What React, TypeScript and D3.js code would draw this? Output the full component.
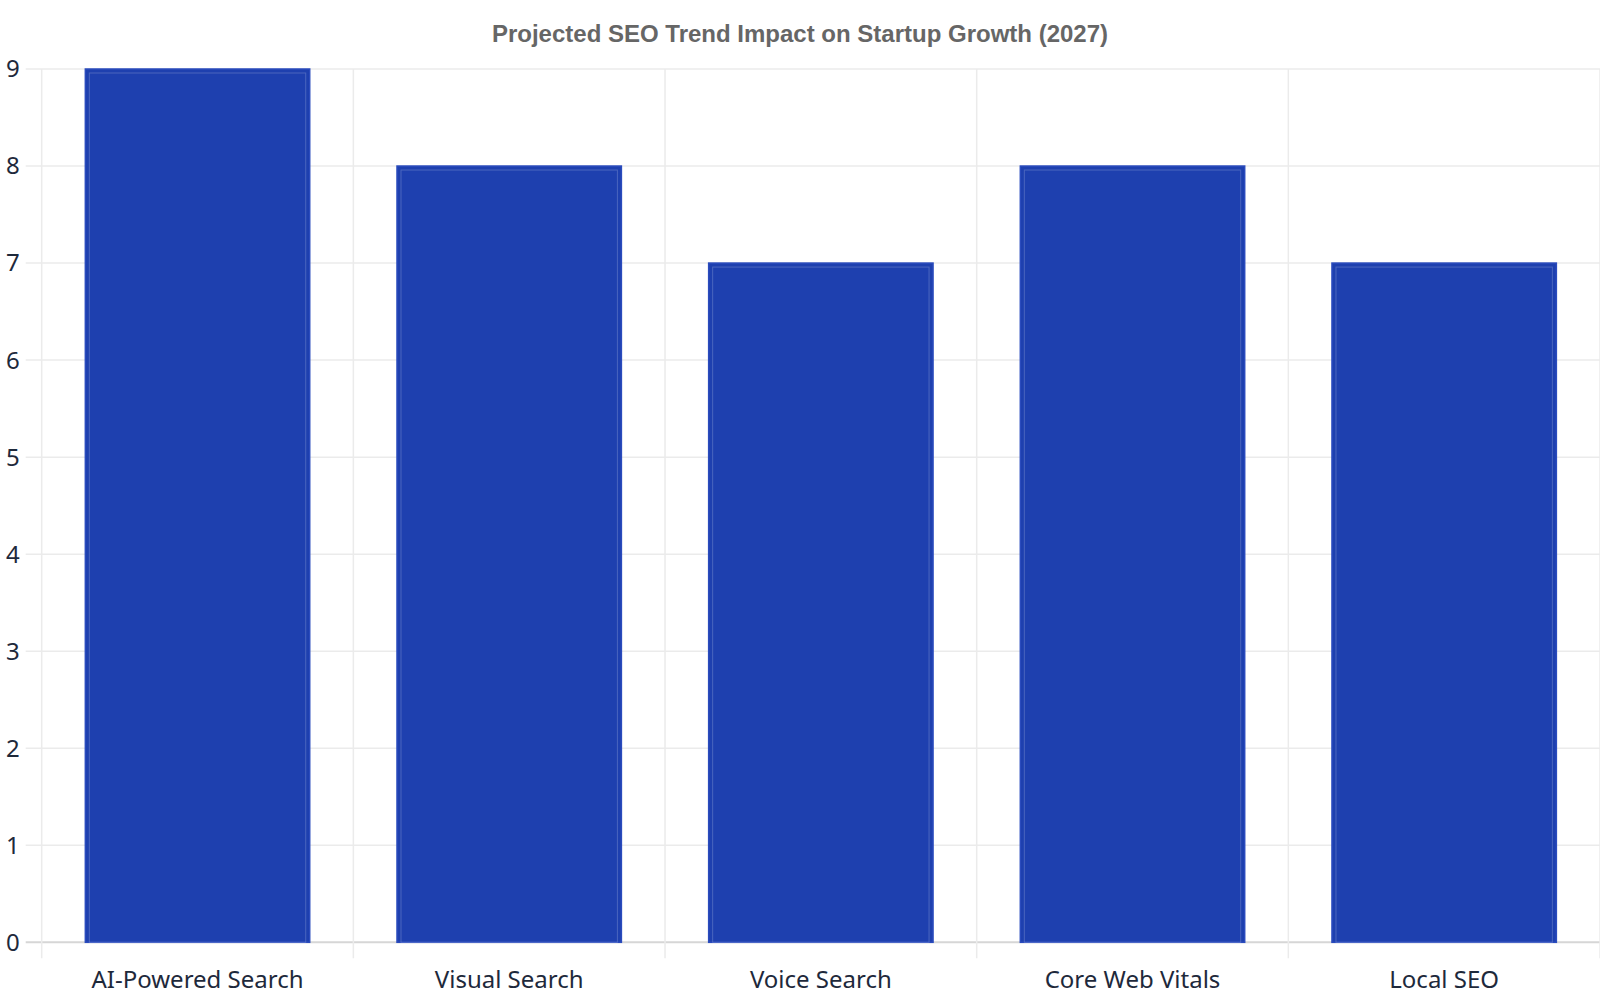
import { useMemo } from "react";
import * as d3 from "d3";

const WIDTH = 1600;
const HEIGHT = 1000;
const MARGIN = { top: 69, right: 0, bottom: 57.7, left: 41.7 };

const categories = [
  "AI-Powered Search",
  "Visual Search",
  "Voice Search",
  "Core Web Vitals",
  "Local SEO",
];
const impactScores = [9, 8, 7, 8, 7];
const yTicks = [0, 1, 2, 3, 4, 5, 6, 7, 8, 9];

const TITLE = "Projected SEO Trend Impact on Startup Growth (2027)";
const BAR_COLOR = "#1e40af";
const GRID_COLOR = "#ebebeb";
const LABEL_COLOR = "#1e293b";
const LABEL_FONT = "'Noto Sans', 'Open Sans', sans-serif";

export default function App() {
  const boundsWidth = WIDTH - MARGIN.left - MARGIN.right;
  const boundsHeight = HEIGHT - MARGIN.top - MARGIN.bottom;

  const xScale = useMemo(
    () =>
      d3
        .scaleBand<string>()
        .domain(categories)
        .range([0, boundsWidth])
        .paddingInner(0.28)
        .paddingOuter(0.14),
    [boundsWidth]
  );

  const yScale = useMemo(
    () => d3.scaleLinear().domain([0, 9]).range([boundsHeight, 0]),
    [boundsHeight]
  );

  // category boundaries for the vertical grid
  const step = xScale.step();
  const boundaries = d3.range(categories.length + 1).map((i) => i * step);

  return (
    <svg
      width={WIDTH}
      height={HEIGHT}
      style={{ position: "absolute", left: 0, top: 0, background: "#fff" }}
    >
      <text
        x={WIDTH / 2}
        y={42}
        textAnchor="middle"
        fontFamily="'Liberation Sans', Arial, sans-serif"
        fontWeight="bold"
        fontSize={24}
        fill="#666666"
      >
        {TITLE}
      </text>

      <g transform={`translate(${MARGIN.left},${MARGIN.top})`}>
        {/* horizontal grid */}
        {yTicks.map((t) => (
          <line
            key={"h" + t}
            x1={-16}
            x2={boundsWidth}
            y1={yScale(t)}
            y2={yScale(t)}
            stroke={t === 0 ? "#d6d6d6" : GRID_COLOR}
            strokeWidth={t === 0 ? 2 : 1.5}
          />
        ))}
        {/* vertical grid */}
        {boundaries.map((b, i) => (
          <line
            key={"v" + i}
            x1={b}
            x2={b}
            y1={0}
            y2={boundsHeight + 16}
            stroke={GRID_COLOR}
            strokeWidth={1.5}
          />
        ))}

        {/* bars */}
        {categories.map((c, i) => {
          const x = xScale(c) ?? 0;
          const y = yScale(impactScores[i]);
          const w = xScale.bandwidth();
          const h = boundsHeight - y;
          return (
            <g key={c}>
              <rect
                x={x}
                y={y}
                width={w}
                height={h}
                fill={BAR_COLOR}
                stroke="#2a4bbd"
                strokeWidth={1.5}
              />
              <rect
                x={x + 4}
                y={y + 4}
                width={w - 8}
                height={h - 4}
                fill="none"
                stroke="rgba(255,255,255,0.2)"
                strokeWidth={1}
              />
            </g>
          );
        })}

        {/* y tick labels */}
        {yTicks.map((t) => (
          <text
            key={"yl" + t}
            x={-22}
            y={yScale(t)}
            dy="0.35em"
            textAnchor="end"
            fontFamily={LABEL_FONT}
            fontSize={24}
            fill={LABEL_COLOR}
          >
            {t}
          </text>
        ))}

        {/* x tick labels */}
        {categories.map((c) => (
          <text
            key={"xl" + c}
            x={(xScale(c) ?? 0) + xScale.bandwidth() / 2}
            y={boundsHeight + 46}
            textAnchor="middle"
            fontFamily={LABEL_FONT}
            fontSize={24}
            fill={LABEL_COLOR}
          >
            {c}
          </text>
        ))}
      </g>
    </svg>
  );
}
